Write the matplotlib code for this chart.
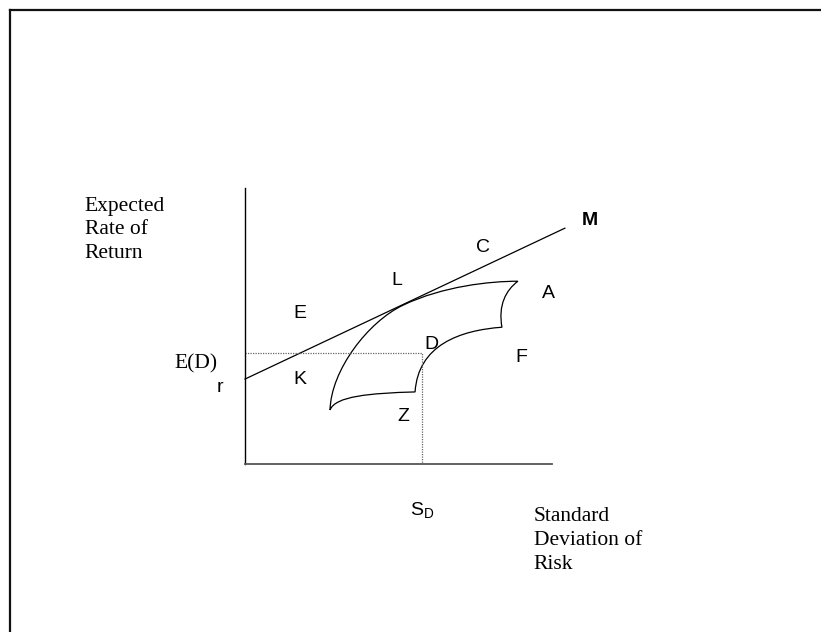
import matplotlib
matplotlib.use("Agg")
import matplotlib.pyplot as plt
from matplotlib.path import Path
from matplotlib.patches import PathPatch
from matplotlib.lines import Line2D

plt.rcParams['mathtext.fontset'] = 'custom'
plt.rcParams['mathtext.rm'] = 'Liberation Sans'

# Data (sigma, expected return) in chart units
risk_free = 2.77
cml_end = (10.42, 7.69)
point_d = (5.77, 3.62)     # S_D, E(D)

# feasible set outline: cubic bezier segments (start, ctrl, ctrl, ...)
bullet_x = [2.77, 2.80, 4.01, 5.15, 6.45, 7.98, 8.89, 8.50, 8.24, 8.37,
            7.00, 5.64, 5.54, 4.07, 2.93, 2.77]
bullet_y = [1.76, 3.06, 4.64, 5.18, 5.80, 5.96, 5.96, 5.67, 5.18, 4.46,
            4.36, 3.88, 2.35, 2.31, 2.21, 1.76]

letters = ['E', 'L', 'C', 'A', 'D', 'F', 'K', 'Z']
letter_x = [1.79, 4.96, 7.76, 9.88, 6.08, 8.99, 1.80, 5.17]
letter_y = [4.91, 5.99, 7.07, 5.55, 3.91, 3.46, 2.76, 1.54]

fig = plt.figure(figsize=(8.21, 6.32), dpi=100)
ax = fig.add_axes([245/821, 1 - 464/632, 307/821, 276/632])
ax.set_xlim(0, 10)
ax.set_ylim(0, 9)
ax.set_xticks([])
ax.set_yticks([])
ax.spines['top'].set_visible(False)
ax.spines['right'].set_visible(False)
ax.spines['left'].set_linewidth(1.0)
ax.spines['bottom'].set_color('#555555')
ax.spines['bottom'].set_linewidth(1.3)

# capital market line
ax.plot([0, cml_end[0]], [risk_free, cml_end[1]], color='black', lw=0.9,
        clip_on=False)

# dotted guides to portfolio D
ax.plot([0, point_d[0], point_d[0]], [point_d[1], point_d[1], 0],
        color='#666666', lw=0.9, linestyle=(0, (1, 1)))

# feasible set
codes = [Path.MOVETO] + [Path.CURVE4] * (len(bullet_x) - 1)
verts = list(zip(bullet_x, bullet_y))
ax.add_patch(PathPatch(Path(verts, codes), facecolor='none',
                       edgecolor='black', lw=0.9))

sans = 'Liberation Sans'
serif = 'Liberation Serif'
for s, x, y in zip(letters, letter_x, letter_y):
    ax.text(x, y, s, family=sans, fontsize=14, ha='center', va='center')
ax.text(11.22, 7.95, 'M', family=sans, fontsize=14, fontweight='bold',
        ha='center', va='center', clip_on=False)
ax.text(-0.83, 2.51, 'r', family=sans, fontsize=14, ha='center', va='center')
ax.text(-0.88, 3.26, 'E(D)', family=serif, fontsize=15.5, ha='right',
        va='center')
ax.text(point_d[0], -1.50, r'$\mathregular{S_D}$', family=sans, fontsize=14,
        ha='center', va='center')

ax.text(-2.6, 8.72, 'Expected\nRate of\nReturn', family=serif, fontsize=15.5,
        ha='right', va='top', multialignment='left', linespacing=1.35)
ax.text(9.41, -1.40, 'Standard\nDeviation of\nRisk', family=serif,
        fontsize=15.5, ha='left', va='top', linespacing=1.35)

# page frame (top and left edges)
fy = 1 - 10/632
fx = 10/821
fig.add_artist(Line2D([fx, 1], [fy, fy], transform=fig.transFigure,
                      color='#111111', lw=1.6))
fig.add_artist(Line2D([fx, fx], [0, fy], transform=fig.transFigure,
                      color='#111111', lw=1.6))

fig.savefig('out.png', dpi=100, facecolor='white')
